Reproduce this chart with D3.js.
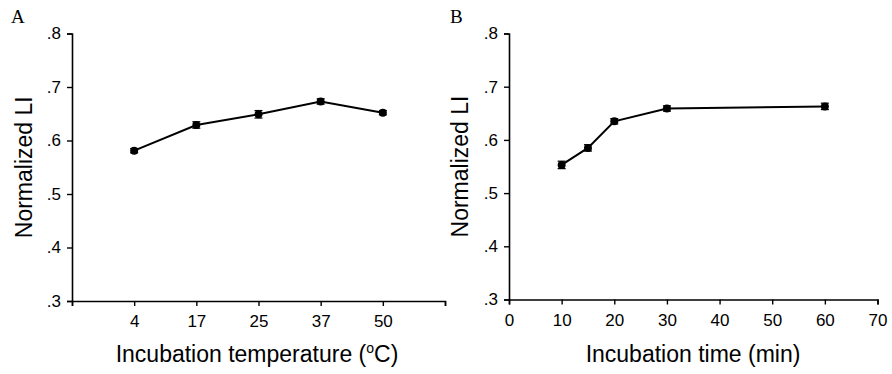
<!DOCTYPE html>
<html>
<head>
<meta charset="utf-8">
<script src="https://cdn.jsdelivr.net/npm/d3@7"></script>
<style>
  body { margin: 0; background: #fff; }
  svg text { font-family: "Liberation Sans", Arial, sans-serif; fill: #000; }
</style>
</head>
<body>
<div id="chart"></div>
<script>
// panel A: incubation temperature
const tempCategories = ["4", "17", "25", "37", "50"];
const tempValues = [0.581, 0.629, 0.649, 0.673, 0.652];
const tempErrors = [0.004, 0.006, 0.007, 0.005, 0.004];

// panel B: incubation time
const timeValues = [10, 15, 20, 30, 60];
const timeLI = [0.553, 0.585, 0.635, 0.659, 0.663];
const timeErrors = [0.007, 0.006, 0.005, 0.005, 0.006];

const yTicks = [0.3, 0.4, 0.5, 0.6, 0.7, 0.8];
const timeTicks = [0, 10, 20, 30, 40, 50, 60, 70];

const svg = d3.select('#chart').append('svg')
  .attr('width', 892)
  .attr('height', 374);

const fmtY = d => d3.format('.1f')(d).replace(/^0/, '');

function drawPanel(opts) {
  const g = svg.append('g');
  const yScale = d3.scaleLinear().domain([0.3, 0.8]).range([opts.bottom, opts.top]);

  // y axis
  const yAxis = d3.axisLeft(yScale).tickValues(yTicks).tickFormat(fmtY).tickSizeOuter(0).tickSize(5).tickPadding(6);
  const ya = g.append('g').attr('transform', `translate(${opts.left},0)`).call(yAxis);
  ya.select('.domain').attr('stroke', '#000').attr('stroke-width', 1.6);
  ya.selectAll('.tick line').attr('stroke-width', 1.4);
  ya.selectAll('text').style('font-size', '17px');

  // x axis
  const xa = g.append('g').attr('transform', `translate(0,${opts.bottom})`).call(opts.xAxis);
  xa.select('.domain').attr('stroke', '#000').attr('stroke-width', 1.6);
  xa.selectAll('.tick line').attr('stroke-width', 1.4);
  xa.selectAll('text').style('font-size', '17px');

  const pts = opts.xs.map((x, i) => ({ x: x, y: yScale(opts.ys[i]), lo: yScale(opts.ys[i] - opts.err[i]), hi: yScale(opts.ys[i] + opts.err[i]) }));

  g.append('path')
    .datum(pts)
    .attr('fill', 'none')
    .attr('stroke', '#000')
    .attr('stroke-width', 2)
    .attr('d', d3.line().x(d => d.x).y(d => d.y));

  const eb = g.selectAll('.eb').data(pts).enter().append('g').attr('stroke', '#000').attr('stroke-width', 1.2);
  eb.append('line').attr('x1', d => d.x).attr('x2', d => d.x).attr('y1', d => d.lo).attr('y2', d => d.hi);
  eb.append('line').attr('x1', d => d.x - 4).attr('x2', d => d.x + 4).attr('y1', d => d.lo).attr('y2', d => d.lo);
  eb.append('line').attr('x1', d => d.x - 4).attr('x2', d => d.x + 4).attr('y1', d => d.hi).attr('y2', d => d.hi);

  g.selectAll('.dot').data(pts).enter().append('circle')
    .attr('cx', d => d.x).attr('cy', d => d.y).attr('r', 4).attr('fill', '#000');

  // y title
  g.append('text')
    .attr('transform', `translate(${opts.yTitleX},${(opts.top + opts.bottom) / 2}) rotate(-90)`)
    .attr('text-anchor', 'middle')
    .style('font-size', '23px')
    .text('Normalized LI');

  // x title
  const xt = g.append('text')
    .attr('x', opts.xTitleX).attr('y', 362)
    .attr('text-anchor', 'middle')
    .style('font-size', '23px');
  opts.xTitle(xt);

  // panel letter
  g.append('text')
    .attr('x', opts.letterX).attr('y', 23)
    .style('font-family', '"Liberation Serif", "Times New Roman", serif')
    .style('font-size', '19px')
    .text(opts.letter);
}

// panel A scale: categorical positions with a blank slot at each end
const xA = d3.scalePoint().domain(["", ...tempCategories, " "]).range([72, 445]);
drawPanel({
  left: 72, top: 33.5, bottom: 301,
  xs: tempCategories.map(c => xA(c)),
  ys: tempValues, err: tempErrors,
  xAxis: d3.axisBottom(xA).tickSizeOuter(0).tickSize(5).tickPadding(9)
    .tickFormat(d => d.trim()),
  yTitleX: 32, xTitleX: 257,
  xTitle: t => {
    t.append('tspan').text('Incubation temperature (');
    t.append('tspan').attr('dy', -9).style('font-size', '14px').text('o');
    t.append('tspan').attr('dy', 9).text('C)');
  },
  letter: 'A', letterX: 11
});

const xB = d3.scaleLinear().domain([0, 70]).range([509, 877.5]);
drawPanel({
  left: 509, top: 33.5, bottom: 299.5,
  xs: timeValues.map(v => xB(v)),
  ys: timeLI, err: timeErrors,
  xAxis: d3.axisBottom(xB).tickValues(timeTicks).tickSizeOuter(0).tickSize(5).tickPadding(9),
  yTitleX: 468, xTitleX: 693,
  xTitle: t => t.text('Incubation time (min)'),
  letter: 'B', letterX: 450
});
</script>
</body>
</html>
